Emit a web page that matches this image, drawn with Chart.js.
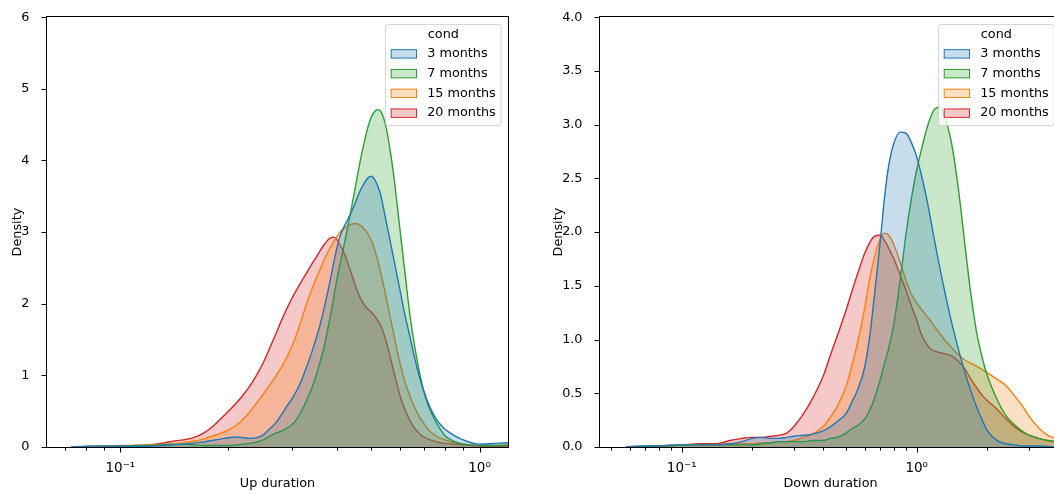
<!DOCTYPE html>
<html>
<head>
<meta charset="utf-8">
<title>Up / Down duration density</title>
<script src="https://cdn.jsdelivr.net/npm/chart.js@4.4.1/dist/chart.umd.min.js"></script>
<style>
  html, body { margin: 0; padding: 0; background: #fff; overflow: hidden; }
  body { width: 1054px; height: 495px; position: relative; }
  canvas { position: absolute; top: 0; }
  #upChart { left: 0; }
  #downChart { left: 530px; }
</style>
</head>
<body>
<canvas id="upChart" width="520" height="495"></canvas>
<canvas id="downChart" width="545" height="495"></canvas>
<script>
/* ===== data ===== */
const legendTitle = "cond";
const conds = ["3 months", "7 months", "15 months", "20 months"];
const colors = ["#1f77b4", "#2ca02c", "#ff7f0e", "#d62728"];

// left panel: Up duration (x, log) -> density
const upDuration = [0.073, 0.08, 0.09, 0.1, 0.11, 0.12, 0.13, 0.14, 0.15, 0.16, 0.17, 0.18, 0.19, 0.2,
  0.21, 0.22, 0.23, 0.24, 0.25, 0.26, 0.27, 0.28, 0.29, 0.3, 0.31, 0.32, 0.33, 0.34, 0.35, 0.36, 0.37,
  0.38, 0.39, 0.4, 0.41, 0.42, 0.43, 0.44, 0.45, 0.46, 0.47, 0.48, 0.49, 0.5, 0.51, 0.52, 0.53, 0.54,
  0.55, 0.56, 0.57, 0.58, 0.59, 0.6, 0.62, 0.64, 0.66, 0.68, 0.7, 0.72, 0.74, 0.76, 0.78, 0.8, 0.85,
  0.9, 0.95, 1.0, 1.1, 1.2, 1.3];
const up3 = [0, 0.01, 0.01, 0.01, 0.01, 0.01, 0.02, 0.03, 0.04, 0.05, 0.07, 0.09, 0.11, 0.13,
  0.14, 0.13, 0.12, 0.13, 0.17, 0.25, 0.33, 0.44, 0.56, 0.67, 0.79, 0.94, 1.12, 1.3, 1.5, 1.71, 1.96,
  2.22, 2.5, 2.76, 2.96, 3.08, 3.18, 3.28, 3.4, 3.52, 3.62, 3.7, 3.76, 3.78, 3.74, 3.65, 3.53, 3.34,
  3.14, 2.95, 2.76, 2.57, 2.38, 2.2, 1.84, 1.54, 1.24, 0.98, 0.78, 0.61, 0.48, 0.38, 0.31, 0.25, 0.16,
  0.1, 0.06, 0.04, 0.05, 0.06, 0.06];
const up7 = [0, 0.005, 0.01, 0.01, 0.02, 0.02, 0.03, 0.04, 0.04, 0.03, 0.02, 0.02, 0.02, 0.02,
  0.03, 0.04, 0.05, 0.07, 0.1, 0.15, 0.19, 0.22, 0.26, 0.31, 0.39, 0.51, 0.65, 0.8, 0.98, 1.19, 1.42,
  1.7, 2.0, 2.32, 2.58, 2.83, 3.08, 3.34, 3.6, 3.86, 4.1, 4.3, 4.48, 4.61, 4.68, 4.71, 4.69, 4.6,
  4.45, 4.23, 3.98, 3.69, 3.37, 3.05, 2.43, 1.84, 1.4, 1.05, 0.77, 0.58, 0.44, 0.33, 0.24, 0.16, 0.08,
  0.04, 0.03, 0.02, 0.02, 0.03, 0.03];
const up15 = [0, 0.005, 0.01, 0.02, 0.02, 0.03, 0.03, 0.04, 0.06, 0.08, 0.11, 0.15, 0.19, 0.24,
  0.3, 0.39, 0.5, 0.62, 0.74, 0.86, 0.98, 1.1, 1.24, 1.4, 1.58, 1.79, 2.0, 2.18, 2.34, 2.48, 2.62,
  2.74, 2.84, 2.93, 3.01, 3.05, 3.09, 3.11, 3.12, 3.11, 3.08, 3.03, 2.97, 2.88, 2.76, 2.61, 2.44, 2.27,
  2.08, 1.89, 1.7, 1.52, 1.34, 1.18, 0.91, 0.71, 0.55, 0.42, 0.33, 0.24, 0.19, 0.15, 0.12, 0.1, 0.06,
  0.04, 0.03, 0.02, 0.02, 0.02, 0.02];
const up20 = [0, 0.005, 0.01, 0.01, 0.02, 0.03, 0.05, 0.08, 0.1, 0.13, 0.19, 0.28, 0.39, 0.5,
  0.61, 0.73, 0.86, 1.01, 1.18, 1.37, 1.56, 1.75, 1.92, 2.07, 2.2, 2.32, 2.43, 2.54, 2.64, 2.74, 2.83,
  2.9, 2.93, 2.9, 2.81, 2.7, 2.56, 2.42, 2.27, 2.14, 2.04, 1.97, 1.92, 1.88, 1.83, 1.77, 1.7, 1.6,
  1.47, 1.32, 1.16, 1.01, 0.86, 0.72, 0.52, 0.37, 0.26, 0.19, 0.14, 0.11, 0.09, 0.07, 0.06, 0.05, 0.04,
  0.03, 0.02, 0.01, 0.01, 0.01, 0.01];

// right panel: Down duration (x, log) -> density
const downDuration = [0.058, 0.07, 0.08, 0.09, 0.1, 0.12, 0.14, 0.16, 0.18, 0.2, 0.22, 0.24, 0.26,
  0.28, 0.3, 0.33, 0.36, 0.4, 0.43, 0.46, 0.5, 0.53, 0.56, 0.6, 0.63, 0.66, 0.7, 0.73, 0.76, 0.8, 0.85,
  0.9, 0.95, 1.0, 1.05, 1.1, 1.15, 1.2, 1.25, 1.3, 1.4, 1.5, 1.6, 1.7, 1.8, 1.9, 2.0, 2.2, 2.4, 2.6,
  2.8, 3.0, 3.3, 3.6, 4.0, 4.5];
const down3 = [0, 0.01, 0.01, 0.02, 0.02, 0.02, 0.02, 0.03, 0.05, 0.08, 0.09, 0.08, 0.08,
  0.09, 0.1, 0.11, 0.12, 0.15, 0.19, 0.24, 0.31, 0.42, 0.53, 0.74, 1.02, 1.4, 1.92, 2.33, 2.62, 2.83, 2.93,
  2.92, 2.83, 2.7, 2.52, 2.32, 2.1, 1.88, 1.68, 1.5, 1.18, 0.92, 0.7, 0.52, 0.37, 0.25, 0.15, 0.06, 0.03, 0.02,
  0.01, 0.01, 0.01, 0.005, 0, 0];
const down7 = [0, 0.01, 0.01, 0.01, 0.02, 0.02, 0.02, 0.02, 0.02, 0.02, 0.03, 0.04, 0.05,
  0.05, 0.05, 0.05, 0.06, 0.06, 0.08, 0.09, 0.13, 0.17, 0.2, 0.26, 0.34, 0.45, 0.63, 0.78, 0.92, 1.15, 1.55,
  1.98, 2.32, 2.58, 2.78, 2.95, 3.08, 3.15, 3.16, 3.1, 2.85, 2.42, 1.9, 1.42, 1.06, 0.83, 0.66, 0.44, 0.29, 0.21,
  0.15, 0.11, 0.08, 0.06, 0.05, 0.04];
const down15 = [0, 0.005, 0.01, 0.01, 0.02, 0.02, 0.02, 0.03, 0.03, 0.03, 0.04, 0.04, 0.05,
  0.05, 0.06, 0.09, 0.12, 0.19, 0.28, 0.38, 0.56, 0.76, 0.97, 1.29, 1.56, 1.76, 1.94, 1.99, 1.97, 1.88, 1.72,
  1.55, 1.42, 1.34, 1.28, 1.22, 1.17, 1.11, 1.06, 1.01, 0.93, 0.86, 0.81, 0.78, 0.75, 0.72, 0.69, 0.63, 0.57, 0.48,
  0.39, 0.29, 0.18, 0.11, 0.07, 0.04];
const down20 = [0, 0.005, 0.01, 0.015, 0.02, 0.03, 0.03, 0.06, 0.08, 0.09, 0.09, 0.1, 0.11,
  0.13, 0.19, 0.31, 0.45, 0.66, 0.86, 1.04, 1.27, 1.45, 1.61, 1.8, 1.9, 1.96, 1.97, 1.92, 1.85, 1.75, 1.6,
  1.46, 1.31, 1.18, 1.04, 0.96, 0.91, 0.89, 0.88, 0.87, 0.85, 0.8, 0.73, 0.63, 0.55, 0.48, 0.43, 0.35, 0.26, 0.19,
  0.14, 0.11, 0.08, 0.06, 0.05, 0.04];

// axis ticks
const upXTicks = [0.07, 0.08, 0.09, 0.1, 0.2, 0.3, 0.4, 0.5, 0.6, 0.7, 0.8, 0.9, 1];
const downXTicks = [0.05, 0.06, 0.07, 0.08, 0.09, 0.1, 0.2, 0.3, 0.4, 0.5, 0.6, 0.7, 0.8, 0.9, 1, 2, 3, 4];
const xMajorTicks = [0.1, 1];
const xMajorLabels = ["10\u207B\u00B9", "10\u2070"];
const upYTicks = [0, 1, 2, 3, 4, 5, 6];
const upYLabels = ["0", "1", "2", "3", "4", "5", "6"];
const downYTicks = [0, 0.5, 1, 1.5, 2, 2.5, 3, 3.5, 4];
const downYLabels = ["0.0", "0.5", "1.0", "1.5", "2.0", "2.5", "3.0", "3.5", "4.0"];

/* ===== helpers ===== */
Chart.defaults.font.family = "'DejaVu Sans', sans-serif";
Chart.defaults.font.size = 12.8;
Chart.defaults.color = "#000";

function rgba(hex, a) {
  const n = parseInt(hex.slice(1), 16);
  return `rgba(${n >> 16},${(n >> 8) & 255},${n & 255},${a})`;
}

function buildDatasets(xs, series) {
  return series.map((ys, i) => ({
    label: conds[i],
    data: xs.map((x, j) => ({ x, y: ys[j] })),
    borderColor: colors[i],
    backgroundColor: rgba(colors[i], 0.25),
    borderWidth: 1.4,
    pointRadius: 0,
    fill: "origin",
    cubicInterpolationMode: "monotone"
  }));
}

// matplotlib-like spines + tick marks
const axesPlugin = {
  id: "mplAxes",
  afterDatasetsDraw(chart) {
    const { ctx, chartArea: a, scales } = chart;
    const xs = scales.x, ys = scales.y;
    ctx.save();
    ctx.strokeStyle = "#000";
    ctx.lineWidth = 1;
    const L = Math.round(a.left) - 0.5, R = Math.round(a.right) + 0.5;
    const T = Math.round(a.top) - 0.5, B = Math.round(a.bottom) + 0.5;
    ctx.strokeRect(L, T, R - L, B - T);
    ctx.beginPath();
    xs.ticks.forEach(t => {
      const px = Math.round(xs.getPixelForValue(t.value)) + 0.5;
      const len = xMajorTicks.includes(t.value) ? 5 : 3;
      ctx.moveTo(px, B);
      ctx.lineTo(px, B + len);
    });
    ys.ticks.forEach(t => {
      const py = Math.round(ys.getPixelForValue(t.value)) + 0.5;
      ctx.moveTo(L, py);
      ctx.lineTo(L - 5, py);
    });
    ctx.stroke();
    ctx.restore();
  }
};

// legend drawn inside the plot, top right
const legendPlugin = {
  id: "condLegend",
  afterDraw(chart) {
    const { ctx, chartArea: a } = chart;
    const w = 115.7, h = 101;
    const x0 = Math.round(a.right - 7.3 - w) + 0.5, y0 = Math.round(a.top + 7.3) + 0.5;
    ctx.save();
    ctx.fillStyle = "rgba(255,255,255,0.8)";
    ctx.strokeStyle = "rgba(204,204,204,0.8)";
    ctx.lineWidth = 1;
    ctx.beginPath();
    ctx.roundRect(x0, y0, w, h, 3);
    ctx.fill();
    ctx.stroke();
    ctx.font = "12.8px 'DejaVu Sans'";
    ctx.textBaseline = "middle";
    ctx.textAlign = "center";
    ctx.fillStyle = "#000";
    ctx.fillText(legendTitle, x0 + w / 2, y0 + 10);
    ctx.textAlign = "left";
    chart.data.datasets.forEach((ds, i) => {
      const cy = y0 + 29.4 + i * 19.75;
      ctx.fillStyle = ds.backgroundColor;
      ctx.fillRect(x0 + 5.7, cy - 4.2, 25.3, 8.4);
      ctx.strokeStyle = ds.borderColor;
      ctx.strokeRect(x0 + 5.7, cy - 4.2, 25.3, 8.4);
      ctx.fillStyle = "#000";
      ctx.fillText(ds.label, x0 + 41.7, cy);
    });
    ctx.restore();
  }
};

function makeChart(id, opts) {
  return new Chart(document.getElementById(id), {
    type: "line",
    data: { datasets: buildDatasets(opts.xs, opts.series) },
    plugins: [axesPlugin, legendPlugin],
    options: {
      responsive: false,
      animation: false,
      layout: { padding: opts.padding },
      plugins: { legend: { display: false }, tooltip: { enabled: false } },
      scales: {
        x: {
          type: "logarithmic",
          min: opts.xMin,
          max: opts.xMax,
          grid: { display: false },
          border: { display: false },
          afterBuildTicks: s => { s.ticks = opts.xTicks.map(v => ({ value: v })); },
          afterFit: s => { s.height = 48; },
          ticks: {
            autoSkip: false,
            maxRotation: 0,
            padding: 5.5,
            font: { size: 13.5 },
            callback: v => {
              const k = xMajorTicks.indexOf(v);
              return k >= 0 ? xMajorLabels[k] : "";
            }
          },
          title: { display: true, text: opts.xTitle, padding: { top: 0, bottom: 3.5 } }
        },
        y: {
          min: opts.yTicks[0],
          max: opts.yTicks[opts.yTicks.length - 1],
          grid: { display: false },
          border: { display: false },
          afterBuildTicks: s => { s.ticks = opts.yTicks.map(v => ({ value: v })); },
          afterFit: s => { s.width = opts.yWidth; },
          ticks: {
            padding: 9.5,
            callback: (v, i) => opts.yLabels[i]
          },
          title: { display: true, text: "Density", padding: { top: 4, bottom: 0 } }
        }
      }
    }
  });
}

makeChart("upChart", {
  xs: upDuration,
  series: [up3, up7, up15, up20],
  xMin: 0.0625, xMax: 1.2,
  xTicks: upXTicks,
  xTitle: "Up duration",
  yTicks: upYTicks, yLabels: upYLabels,
  yWidth: 41.5,
  padding: { left: 5.5, right: 12, top: 15, bottom: 0 }
});

makeChart("downChart", {
  xs: downDuration,
  series: [down3, down7, down15, down20],
  xMin: 0.0449, xMax: 4.11,
  xTicks: downXTicks,
  xTitle: "Down duration",
  yTicks: downYTicks, yLabels: downYLabels,
  yWidth: 53.4,
  padding: { left: 16.6, right: 14, top: 15, bottom: 0 }
});
</script>
</body>
</html>
